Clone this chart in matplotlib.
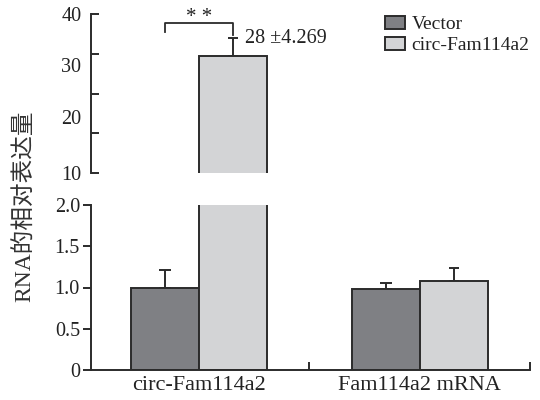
import matplotlib
matplotlib.use("Agg")
import matplotlib.pyplot as plt
import matplotlib.transforms as mtransforms
from matplotlib.patches import Patch
import numpy as np

plt.rcParams['font.family'] = ['Liberation Serif', 'Noto Sans CJK SC']

categories = ["circ-Fam114a2", "Fam114a2 mRNA"]
series_names = ["Vector", "circ-Fam114a2"]
vector_vals = [1.0, 0.98]
vector_err = [0.21, 0.08]
circ_vals = [32.0, 1.08]
circ_err = [3.4, 0.16]
annot_text = "28 \u00b14.269"
top_ticks = [10, 17.5, 25, 32.5, 40]
top_ticklabels = ["10", "", "", "", "40"]
top_extra_labels = [30, 20]
bottom_ticks = [0, 0.5, 1.0, 1.5, 2.0]
bottom_ticklabels = ["0", "0.5", "1.0", "1.5", "2.0"]

c_vec = "#7f8084"
c_circ = "#d3d4d6"
edge = "#2b2b2b"
tc = "#222222"

W, H = 540, 400
fig = plt.figure(figsize=(W/100, H/100), dpi=100)

def fx(px): return px / W
def fy(py): return 1 - py / H

left, right = 91, 530
ax_top = fig.add_axes([fx(left), fy(173), fx(right) - fx(left), fy(14) - fy(173)])
ax_bot = fig.add_axes([fx(left), fy(370), fx(right) - fx(left), fy(205) - fy(370)])

x = np.arange(len(categories))
bw = 0.308
for ax in (ax_top, ax_bot):
    ax.bar(x - bw/2, vector_vals, bw, color=c_vec, edgecolor=edge, linewidth=1.4, zorder=2)
    ax.bar(x + bw/2, circ_vals, bw, color=c_circ, edgecolor=edge, linewidth=1.4, zorder=2)
    ax.errorbar(x - bw/2, vector_vals, yerr=[np.zeros(len(x)), vector_err], fmt='none',
                ecolor=edge, elinewidth=1.4, capsize=4.5, capthick=1.4, zorder=1)
    ax.errorbar(x + bw/2, circ_vals, yerr=[np.zeros(len(x)), circ_err], fmt='none',
                ecolor=edge, elinewidth=1.4, capsize=3.5, capthick=1.4, zorder=1)
    ax.set_xlim(-0.49, 1.5)
    ax.spines['top'].set_visible(False)
    ax.spines['right'].set_visible(False)
    for s in ax.spines.values():
        s.set_linewidth(1.4)
        s.set_color(edge)

# top panel
ax_top.set_ylim(10, 40)
ax_top.spines['bottom'].set_visible(False)
ax_top.set_xticks([])
ax_top.set_yticks(top_ticks)
ax_top.set_yticklabels(top_ticklabels)
ax_top.tick_params(axis='y', direction='in', length=6, width=1.4, color=edge,
                   labelsize=14.5, labelcolor=tc, pad=7)
ax_top.set_yticks([10], minor=True)
ax_top.tick_params(axis='y', which='minor', direction='out', length=6, width=1.4, color=edge, labelleft=False)
blend = mtransforms.blended_transform_factory(ax_top.transAxes, ax_top.transData)
for v in top_extra_labels:
    ax_top.text(-0.022, v, str(v), transform=blend, ha='right', va='center',
                fontsize=14.5, color=tc)

# significance bracket
x0, x1 = x[0] - bw/2, x[0] + bw/2
ax_top.plot([x0, x0, x1, x1], [36.6, 38.3, 38.3, 36.1], color=edge, lw=1.3, clip_on=False)
ax_top.text((x0 + x1)/2, 37.6, "* *", ha='center', va='bottom', fontsize=15, color=tc, clip_on=False)
ax_top.text(x[0] + 0.21, 35.4, annot_text, ha='left', va='center', fontsize=14.5, color=tc)

# bottom panel
ax_bot.set_ylim(0, 2.0)
ax_bot.set_yticks(bottom_ticks)
ax_bot.set_yticklabels(bottom_ticklabels)
ax_bot.tick_params(axis='y', direction='out', length=6, width=1.4, color=edge,
                   labelsize=14.5, labelcolor=tc, pad=2)
ax_bot.set_yticks([2.0], minor=True)
ax_bot.tick_params(axis='y', which='minor', direction='in', length=6, width=1.4, color=edge, labelleft=False)
ax_bot.set_xticks([0.5, 1.5])
ax_bot.set_xticklabels([])
ax_bot.tick_params(axis='x', which='major', direction='in', length=6, width=1.4, color=edge)
ax_bot.set_xticks(x, minor=True)
ax_bot.set_xticklabels(categories, minor=True)
ax_bot.tick_params(axis='x', which='minor', length=0, labelsize=16, labelcolor=tc, pad=4)

# legend
handles = [Patch(facecolor=c_vec, edgecolor=edge, linewidth=1.4),
           Patch(facecolor=c_circ, edgecolor=edge, linewidth=1.4)]
fig.legend(handles, series_names, loc='upper left', bbox_to_anchor=(fx(385), fy(16)),
           frameon=False, fontsize=14, borderpad=0, borderaxespad=0,
           handlelength=1.03, handleheight=0.67, handletextpad=0.33, labelspacing=0.17,
           labelcolor=tc)

fig.text(fx(25), fy(206), "RNA的相对表达量", rotation=90, ha='center', va='center',
         fontsize=17, color="#333333")

fig.savefig("out.png", dpi=100)
